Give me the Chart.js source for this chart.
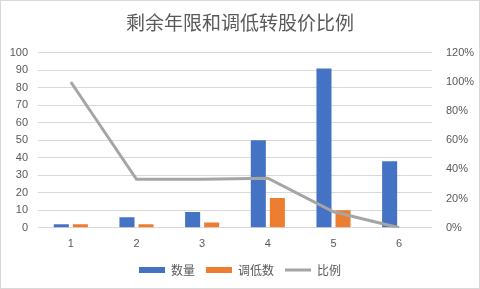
<!DOCTYPE html>
<html>
<head>
<meta charset="utf-8">
<script src="https://cdn.jsdelivr.net/npm/chart.js@4/dist/chart.umd.min.js"></script>
<style>
  html, body { margin: 0; padding: 0; background: #fff; }
  #wrap { position: relative; width: 478px; height: 287px; border: 1px solid #d9d9d9; }
</style>
</head>
<body>
<div id="wrap"><canvas id="chart"></canvas></div>
<script>
// Data
const categories = ['1', '2', '3', '4', '5', '6'];
const countValues = [2, 6, 9, 50, 91, 38];
const loweredValues = [2, 2, 3, 17, 10, 0];
const ratioValues = [1.0, 0.333, 0.333, 0.34, 0.11, 0.0];

const textColor = '#595959';
const gridColor = '#d9d9d9';
const tickFont = { family: '"Liberation Sans", "Noto Sans CJK SC", sans-serif', size: 11 };

// flat legend swatches like the original
function swatch(color) {
  const c = document.createElement('canvas');
  c.width = 26; c.height = 6;
  const g = c.getContext('2d');
  g.fillStyle = color;
  g.fillRect(0, 0, 26, 6);
  return c;
}

new Chart(document.getElementById('chart'), {
  data: {
    labels: categories,
    datasets: [
      {
        type: 'bar', label: '数量', data: countValues,
        backgroundColor: '#4472c4', yAxisID: 'y', order: 1,
        barPercentage: 0.79, categoryPercentage: 0.58,
        pointStyle: swatch('#4472c4'),
      },
      {
        type: 'bar', label: '调低数', data: loweredValues,
        backgroundColor: '#ed7d31', yAxisID: 'y', order: 1,
        barPercentage: 0.79, categoryPercentage: 0.58,
        pointStyle: swatch('#ed7d31'),
      },
      {
        type: 'line', label: '比例', data: ratioValues,
        borderColor: '#a5a5a5', backgroundColor: '#a5a5a5',
        borderWidth: 3, pointRadius: 0, tension: 0, yAxisID: 'y1', order: 0,
        pointStyle: 'line',
      },
    ],
  },
  options: {
    responsive: true,
    maintainAspectRatio: false,
    animation: false,
    layout: { padding: { left: 0, right: 0, top: 4, bottom: 2 } },
    plugins: {
      title: {
        display: true, text: '剩余年限和调低转股价比例', color: textColor,
        font: { family: '"Noto Sans CJK SC", sans-serif', size: 19, weight: 'normal' },
        padding: { top: 6, bottom: 19 },
      },
      legend: {
        position: 'bottom',
        labels: {
          color: textColor, usePointStyle: true, pointStyleWidth: 26, padding: 11,
          font: { family: '"Noto Sans CJK SC", sans-serif', size: 12 },
          sort: (a, b) => a.datasetIndex - b.datasetIndex,
        },
      },
      tooltip: { enabled: false },
    },
    scales: {
      x: {
        grid: { display: false },
        border: { display: false },
        ticks: { color: textColor, font: tickFont, padding: 2 },
      },
      y: {
        position: 'left', min: 0, max: 100,
        ticks: { stepSize: 10, color: textColor, font: tickFont, padding: 10 },
        grid: { color: gridColor, drawTicks: false },
        border: { display: false },
        afterFit: scale => { scale.width = 37; },
      },
      y1: {
        position: 'right', min: 0, max: 1.2,
        ticks: {
          stepSize: 0.2, color: textColor, font: tickFont, padding: 14,
          callback: v => Math.round(v * 100) + '%',
        },
        grid: { display: false, drawTicks: false },
        border: { display: false },
        afterFit: scale => { scale.width = 47; },
      },
    },
  },
});
</script>
</body>
</html>
